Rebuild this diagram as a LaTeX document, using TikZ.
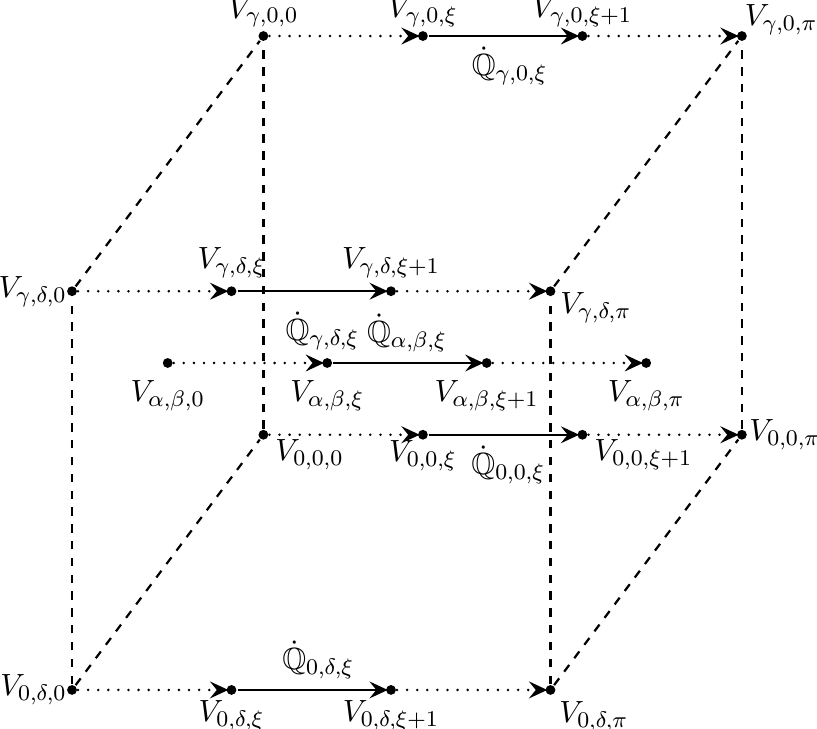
\documentclass[tikz,border=0pt,11pt]{standalone}
\usepackage{amsmath,amssymb}
\usetikzlibrary{arrows.meta,positioning}

\begin{document}
\begin{tikzpicture}[->,>={Stealth[length=6.5pt,width=6pt,inset=2.4pt]},shorten >=-1pt,thick,
                    node distance=2cm,
                    vtx/.style={circle,fill=black,inner sep=0pt,minimum size=3.5pt},
                    dotline/.style={line width=1pt,line cap=round,dash pattern=on 0pt off 3.6pt},
                    cube/.style={-,dashed,shorten >=0pt}]
\useasboundingbox (-0.903,-0.489) rectangle (9.342,8.652);

        % back top row
        \node[vtx]                  (bt0)   at (2.4,8.2)         {};
        \node[vtx]                  (bt1)   [right of=bt0]      {};
        \node[vtx]                  (bt2)   [right of=bt1]      {};
        \node[vtx]                  (bt3)   [right of=bt2]      {};
        \node (pbt0) [above=-3pt of bt0]       {$V_{\gamma,0,0}$};
        \node (pbt1) [above=-3pt of bt1]       {$V_{\gamma,0,\xi}$};
        \node (pbt2) [above=-3pt of bt2]       {$V_{\gamma,0,\xi+1}$};
        \node (pbt3) [above right=-5pt and -4.5pt of bt3] {$V_{\gamma,0,\pi}$};

        % front top row
        \node[vtx]                  (t0)    at (0,5)             {};
        \node[vtx]                  (t1)    [right of=t0]       {};
        \node[vtx]                  (t2)    [right of=t1]       {};
        \node[vtx]                  (t3)    [right of=t2]       {};
        \node (pt0) [left=-4.3pt of t0]        {$V_{\gamma,\delta,0}$};
        \node (pt1) [above=-1.5pt of t1]       {$V_{\gamma,\delta,\xi}$};
        \node (pt2) [above=-1.5pt of t2]       {$V_{\gamma,\delta,\xi+1}$};
        \node (pt3) [below right=-5.2pt and -2pt of t3] {$V_{\gamma,\delta,\pi}$};

        % middle row
        \node[vtx]                  (m0)    at (1.2,4.1)         {};
        \node[vtx]                  (m1)    [right of=m0]       {};
        \node[vtx]                  (m2)    [right of=m1]       {};
        \node[vtx]                  (m3)    [right of=m2]       {};
        \node (pm0) [below=0pt of m0]          {$V_{\alpha,\beta,0}$};
        \node (pm1) [below=0pt of m1]          {$V_{\alpha,\beta,\xi}$};
        \node (pm2) [below=0pt of m2]          {$V_{\alpha,\beta,\xi+1}$};
        \node (pm3) [below=0pt of m3]          {$V_{\alpha,\beta,\pi}$};

        % back bottom row
        \node[vtx]                  (bb0)   at (2.4,3.2)         {};
        \node[vtx]                  (bb1)   [right of=bb0]      {};
        \node[vtx]                  (bb2)   [right of=bb1]      {};
        \node[vtx]                  (bb3)   [right of=bb2]      {};
        \node (pbb0) [below right=-3.8pt and -1.3pt of bb0] {$V_{0,0,0}$};
        \node (pbb1) [below=-4pt of bb1]       {$V_{0,0,\xi}$};
        \node (pbb2) [below right=-3.8pt and -1.3pt of bb2] {$V_{0,0,\xi+1}$};
        \node (pbb3) [right=-3.5pt of bb3]     {$V_{0,0,\pi}$};

        % front bottom row
        \node[vtx]                  (b0)    at (0,0)             {};
        \node[vtx]                  (b1)    [right of=b0]       {};
        \node[vtx]                  (b2)    [right of=b1]       {};
        \node[vtx]                  (b3)    [right of=b2]       {};
        \node (pb0) [left=-4.3pt of b0]        {$V_{0,\delta,0}$};
        \node (pb1) [below=-2.5pt of b1]       {$V_{0,\delta,\xi}$};
        \node (pb2) [below=-2.5pt of b2]       {$V_{0,\delta,\xi+1}$};
        \node (pb3) [below right=-1.5pt and -2.4pt of b3] {$V_{0,\delta,\pi}$};

        % cube edges
        \draw[cube] (b0) -- (t0);
        \draw[cube] (b3) -- (t3);
        \draw[cube] (bb0) -- (bt0);
        \draw[cube] (bb3) -- (bt3);
        \draw[cube] (t0) -- (bt0);
        \draw[cube] (t3) -- (bt3);
        \draw[cube] (b0) -- (bb0);
        \draw[cube] (b3) -- (bb3);

        \path
        (bt0) edge[dotline] (bt1)
        (bt1) edge node[below,xshift=2.5pt] (qbt) {$\dot{\mathbb{Q}}_{\gamma,0,\xi}$} (bt2)
        (bt2) edge[dotline] (bt3)
        (t0)  edge[dotline] (t1)
        (t1)  edge node[below,xshift=4pt,yshift=-3.5pt] (qt) {$\dot{\mathbb{Q}}_{\gamma,\delta,\xi}$} (t2)
        (t2)  edge[dotline] (t3)
        (m0)  edge[dotline] (m1)
        (m1)  edge node[above] (qm) {$\dot{\mathbb{Q}}_{\alpha,\beta,\xi}$} (m2)
        (m2)  edge[dotline] (m3)
        (bb0) edge[dotline] (bb1)
        (bb1) edge node[below,xshift=2pt] (qbb) {$\dot{\mathbb{Q}}_{0,0,\xi}$} (bb2)
        (bb2) edge[dotline] (bb3)
        (b0)  edge[dotline] (b1)
        (b1)  edge node[above,xshift=2.5pt] (qb) {$\dot{\mathbb{Q}}_{0,\delta,\xi}$} (b2)
        (b2)  edge[dotline] (b3)
        ; %end path

\end{tikzpicture}
\end{document}
